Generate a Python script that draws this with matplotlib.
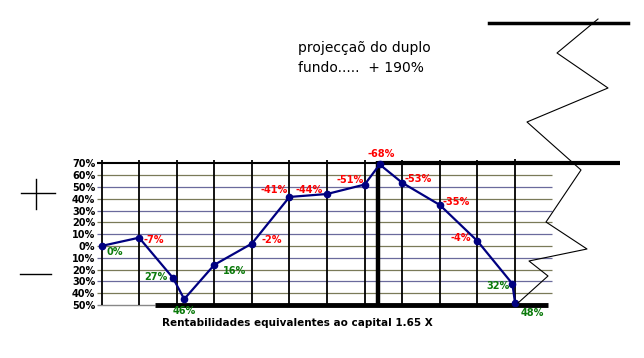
import numpy as np
import matplotlib.pyplot as plt

# data (x in grid columns, y in %)
x_pos = [0, 1, 1.9, 2.2, 3, 4, 5, 6, 7, 7.4, 8, 9, 10, 10.93, 11]
y_val = [0, 7, -27, -45, -16, 2, 41.5, 44, 52, 69, 53.5, 34.7, 4.2, -32, -48]
pt_labels = ['0%', '-7%', '27%', '46%', '16%', '-2%', '-41%', '-44%', '-51%',
             '-68%', '-53%', '-35%', '-4%', '32%', '48%']
y_ticks = [70, 60, 50, 40, 30, 20, 10, 0, -10, -20, -30, -40, -50]
y_ticklabels = ['70%', '60%', '50%', '40%', '30%', '20%', '10%', '0%',
                '10%', '20%', '30%', '40%', '50%']
title_txt = 'projecçaõ do duplo\nfundo.....  + 190%'
xlabel_txt = 'Rentabilidades equivalentes ao capital 1.65 X'

# label styling (offset in pixels, alignment)
lab_off = [(5, -6), (4, -2), (-5, 1), (0, -12), (9, -6), (10, 4), (-2, 7), (-4, 4),
           (-1, 5), (2, 10), (2, 4), (3, 3), (-6, 3), (-3, -2), (6, -10)]
lab_ha = ['left', 'left', 'right', 'center', 'left', 'left', 'right', 'right',
          'right', 'center', 'left', 'left', 'right', 'right', 'left']

W, H = 644, 358
fig = plt.figure(figsize=(W / 100, H / 100), dpi=100)
fig.patch.set_facecolor('white')

# main chart axes, mapped to the grid box
x0, x1, ytop, ybot = 101.5, 515, 163.3, 305
ax = fig.add_axes([x0 / W, 1 - ybot / H, (x1 - x0) / W, (ybot - ytop) / H])
ax.set_xlim(0, 11)
ax.set_ylim(-50, 70)
for s in ax.spines.values():
    s.set_visible(False)
ax.set_xticks([])
ax.set_yticks(y_ticks)
ax.set_yticklabels(y_ticklabels, fontsize=7, fontweight='bold')
ax.tick_params(axis='y', length=0, pad=4.5)

# horizontal grid
inner = y_ticks[1:-1]
cols = ['#7a7a58' if i % 2 == 0 else '#6a6a9c' for i in range(len(inner))]
ax.hlines(inner, -0.12, 11.98, colors=cols, lw=0.9, clip_on=False, zorder=1)
ax.hlines(70, -0.12, 11.0, colors='black', lw=1.5, clip_on=False, zorder=2)
ax.hlines(-50, -0.12, 1.42, colors='#888888', lw=1, clip_on=False, zorder=1)
ax.hlines(-50, 1.42, 11.87, colors='black', lw=3.5, clip_on=False, zorder=2)
# vertical grid
ax.vlines(range(11), -50, 72.5, colors='black', lw=1.3, clip_on=False, zorder=2)
ax.vlines(11, -50, 73.6, colors='black', lw=1.3, clip_on=False, zorder=2)
# thick marker lines
ax.vlines(7.36, -49, 72, colors='black', lw=3.2, clip_on=False, zorder=3)
ax.hlines(70, 7.36, 13.8, colors='black', lw=3, clip_on=False, zorder=3)

ax.plot(x_pos, y_val, color='#000080', lw=1.6, marker='o', ms=4.5, zorder=5,
        clip_on=False)

for xi, yi, lab, off, ha in zip(x_pos, y_val, pt_labels, lab_off, lab_ha):
    col = 'red' if lab.startswith('-') else '#0a7a0a'
    ax.annotate(lab, (xi, yi), xytext=(off[0] * 0.72, off[1] * 0.72),
                textcoords='offset points', ha=ha, va='center', fontsize=7,
                fontweight='bold', color=col, zorder=6, annotation_clip=False)

# overlay axes in pixel space for decorations
ov = fig.add_axes([0, 0, 1, 1])
ov.set_xlim(0, W)
ov.set_ylim(H, 0)
ov.axis('off')
ov.patch.set_alpha(0)

zig_x = [598, 557, 608, 527, 581, 546, 587, 529, 548, 518]
zig_y = [19, 53, 88, 122, 170, 222, 249, 261, 276, 303]
ov.plot(zig_x, zig_y, color='black', lw=0.8)
ov.plot([489, 628], [23, 23], color='black', lw=2.5)
ov.plot([36, 36], [179, 209], color='black', lw=1)
ov.plot([21, 55], [193, 193], color='black', lw=1)
ov.plot([20, 51], [274, 274], color='black', lw=1)

ov.text(298, 58, title_txt, fontsize=10, ha='left', va='center',
        linespacing=1.5)
ov.text(297, 323, xlabel_txt, fontsize=7.5, fontweight='bold', ha='center',
        va='center')

fig.savefig('out.png', dpi=100)
